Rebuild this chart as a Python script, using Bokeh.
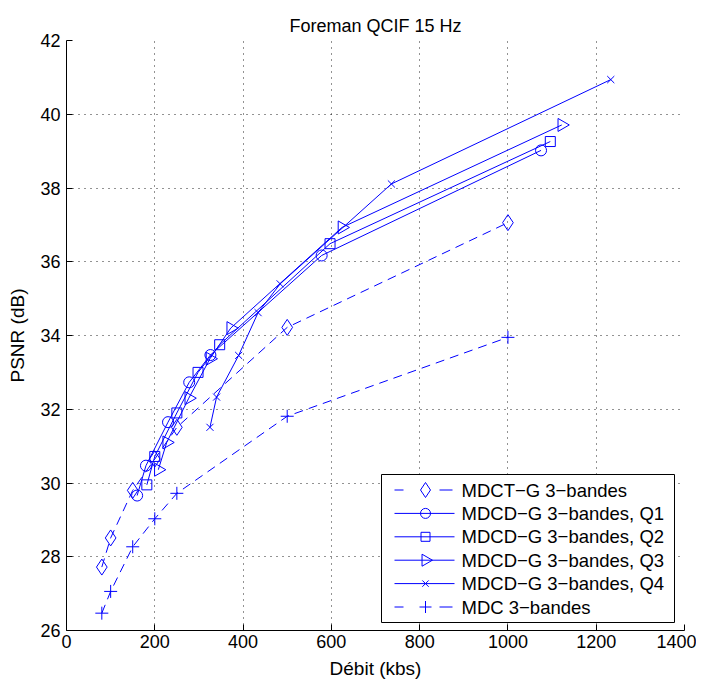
import math
from bokeh.plotting import figure
from bokeh.models import Range1d, FixedTicker
from bokeh.core.properties import value
from bokeh.embed import file_html
from bokeh.resources import INLINE

# ---- data ----
x_ticks = [0, 200, 400, 600, 800, 1000, 1200, 1400]
y_ticks = [26, 28, 30, 32, 34, 36, 38, 40, 42]

mdct_x = [80, 100, 150, 200, 250, 500, 1000]
mdct_y = [27.72, 28.51, 29.80, 30.65, 31.51, 34.22, 37.06]

q1_x = [160, 180, 230, 278, 326, 578, 1075]
q1_y = [29.66, 30.47, 31.65, 32.73, 33.47, 36.17, 39.02]

q2_x = [182, 200, 250, 298, 347, 597, 1096]
q2_y = [29.95, 30.72, 31.90, 33.00, 33.75, 36.49, 39.26]

q3_x = [208, 227, 277, 325, 372, 624, 1122]
q3_y = [30.36, 31.10, 32.30, 33.37, 34.20, 36.93, 39.71]

q4_x = [325, 340, 390, 434, 484, 736, 1233]
q4_y = [31.51, 32.33, 33.46, 34.62, 35.40, 38.11, 40.94]

mdc_x = [80, 100, 150, 200, 250, 500, 1000]
mdc_y = [26.47, 27.06, 28.27, 29.03, 29.72, 31.81, 33.95]

labels = ["MDCT\u2212G 3\u2212bandes",
          "MDCD\u2212G 3\u2212bandes, Q1",
          "MDCD\u2212G 3\u2212bandes, Q2",
          "MDCD\u2212G 3\u2212bandes, Q3",
          "MDCD\u2212G 3\u2212bandes, Q4",
          "MDC 3\u2212bandes"]
title_text = "Foreman QCIF 15 Hz"

FONT = "Liberation Sans"
BLUE = "#0000ff"
X0, X1, Y0, Y1 = 0, 1400, 26, 42
FW, FH = 618, 590

p = figure(frame_width=FW, frame_height=FH,
           x_range=Range1d(X0, X1), y_range=Range1d(Y0, Y1),
           output_backend="svg", toolbar_location=None,
           title=title_text)
p.min_border_left = 66
p.min_border_top = 40
p.min_border_right = 12
p.min_border_bottom = 10
p.outline_line_color = None
p.background_fill_color = "white"
p.border_fill_color = "white"

p.title.align = "center"
p.title.text_font = FONT
p.title.text_font_size = "18px"
p.title.text_font_style = "normal"
p.title.text_color = "black"

for ax in (p.xaxis[0], p.yaxis[0]):
    ax.axis_line_color = "black"
    ax.major_tick_line_color = "black"
    ax.major_tick_in = 6
    ax.major_tick_out = 0
    ax.minor_tick_line_color = None
    ax.major_label_text_font = FONT
    ax.major_label_text_font_size = "18px"
    ax.major_label_text_color = "black"
    ax.axis_label_text_font = FONT
    ax.axis_label_text_font_size = "19px"
    ax.axis_label_text_font_style = "normal"
    ax.axis_label_text_color = "black"

p.xaxis.ticker = FixedTicker(ticks=x_ticks)
p.yaxis.ticker = FixedTicker(ticks=y_ticks)
p.xaxis.axis_label = "D\u00e9bit (kbs)"
p.yaxis.axis_label = "PSNR (dB)"
p.xaxis.major_label_standoff = 4
p.xaxis.axis_label_standoff = 7
p.yaxis.major_label_standoff = 6
p.yaxis.axis_label_standoff = 9

for g in (p.xgrid[0], p.ygrid[0]):
    g.grid_line_color = "black"
    g.grid_line_dash = "1 5"
    g.grid_line_width = 1
    g.grid_line_alpha = 0.85

# (xs, ys, dashed?, marker, size, angle, legend marker size)
series = [
    (mdct_x, mdct_y, True, "diamond", 16, 0.0, 15),
    (q1_x, q1_y, False, "circle", 11, 0.0, 10),
    (q2_x, q2_y, False, "square", 10, 0.0, 9),
    (q3_x, q3_y, False, "triangle", 13, -math.pi / 2, 12),
    (q4_x, q4_y, False, "x", 10, 0.0, 9),
    (mdc_x, mdc_y, True, "cross", 13, 0.0, 12),
]

for xs, ys, dashed, marker, size, ang, _ in series:
    p.line(xs, ys, line_color=BLUE, line_width=1,
           line_dash="9 6" if dashed else "solid")
    p.scatter(xs, ys, marker=marker, size=size, angle=ang,
              line_color=BLUE, fill_color=None, line_width=1)

# ---- legend box (pixel layout inside the frame, converted to data units) ----
def dx(px):  # px from frame left
    return X0 + px / FW * (X1 - X0)

def dy(py):  # px from frame top
    return Y1 - py / FH * (Y1 - Y0)

BOX_L, BOX_R, BOX_T, BOX_B = 315, 608, 434, 582
ROW0, ROW_H = 449.5, 23.4
LINE_L, LINE_R, MARK_X, TEXT_X = 328, 388, 359, 395
DASHES = [(328, 337), (373, 386)]

p.quad(left=[dx(BOX_L)], right=[dx(BOX_R)], top=[dy(BOX_T)], bottom=[dy(BOX_B)],
       fill_color="white", line_color="black", line_width=1)

sx0, sy0, sx1, sy1 = [], [], [], []
for i, s in enumerate(series):
    yy = dy(ROW0 + i * ROW_H)
    segs = DASHES if s[2] else [(LINE_L, LINE_R)]
    for a, b in segs:
        sx0.append(dx(a)); sx1.append(dx(b)); sy0.append(yy); sy1.append(yy)
p.segment(x0=sx0, y0=sy0, x1=sx1, y1=sy1, line_color=BLUE, line_width=1)

for i, s in enumerate(series):
    yy = dy(ROW0 + i * ROW_H)
    p.scatter([dx(MARK_X)], [yy], marker=s[3], size=s[6], angle=s[5],
              line_color=BLUE, fill_color=None, line_width=1)

p.text(x=[dx(TEXT_X)] * len(labels),
       y=[dy(ROW0 + i * ROW_H) for i in range(len(labels))],
       text=labels, text_font=value(FONT), text_font_size=value("18.5px"),
       text_color="black", text_align="left", text_baseline="middle")

open("out.html", "w").write(file_html(p, INLINE))
